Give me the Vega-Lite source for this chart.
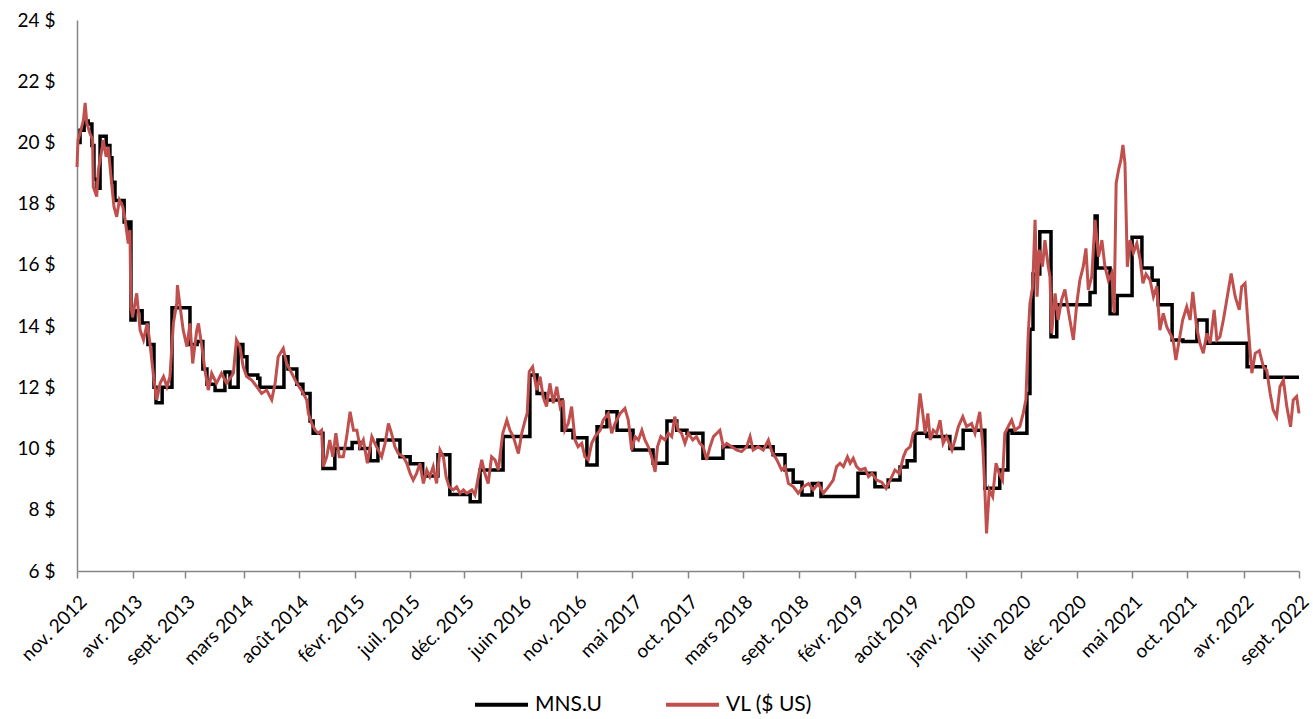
{
  "$schema": "https://vega.github.io/schema/vega-lite/v6.json",
  "autosize": {"type": "none"},
  "width": 1222,
  "height": 551,
  "padding": {"left": 77, "top": 20, "right": 14, "bottom": 148},
  "background": "white",
  "config": {"view": {"stroke": null}, "font": "Lato"},
  "datasets": {
    "mns": [
      {"d":"2012-11-15","v":20.0},{"d":"2012-11-24","v":20.4},{"d":"2012-12-06","v":20.7},{"d":"2012-12-18","v":20.6},{"d":"2012-12-29","v":19.9},
      {"d":"2013-01-04","v":18.8},{"d":"2013-01-13","v":18.5},{"d":"2013-01-22","v":20.2},{"d":"2013-02-09","v":19.9},{"d":"2013-02-20","v":19.5},
      {"d":"2013-02-26","v":18.7},{"d":"2013-03-07","v":18.1},{"d":"2013-04-03","v":17.4},{"d":"2013-04-15","v":17.1},{"d":"2013-04-20","v":17.4},
      {"d":"2013-04-23","v":14.2},{"d":"2013-05-05","v":14.5},{"d":"2013-05-26","v":14.1},{"d":"2013-06-12","v":13.4},{"d":"2013-06-30","v":12.0},
      {"d":"2013-07-06","v":11.5},{"d":"2013-07-24","v":12.0},{"d":"2013-08-22","v":14.6},{"d":"2013-10-14","v":13.4},{"d":"2013-11-04","v":13.5},
      {"d":"2013-11-21","v":12.6},{"d":"2013-12-03","v":12.1},{"d":"2013-12-27","v":11.9},{"d":"2014-01-25","v":12.5},{"d":"2014-02-09","v":12.0},
      {"d":"2014-03-05","v":13.4},{"d":"2014-03-19","v":13.0},{"d":"2014-03-31","v":12.4},{"d":"2014-05-02","v":12.3},{"d":"2014-05-08","v":12.0},
      {"d":"2014-07-18","v":13.0},{"d":"2014-07-30","v":12.6},{"d":"2014-08-25","v":12.1},{"d":"2014-09-12","v":11.8},{"d":"2014-10-03","v":10.9},
      {"d":"2014-10-12","v":10.5},{"d":"2014-11-10","v":9.35},{"d":"2014-12-15","v":10.0},{"d":"2015-02-04","v":10.2},{"d":"2015-02-27","v":10.0},
      {"d":"2015-03-29","v":9.6},{"d":"2015-04-21","v":10.28},{"d":"2015-06-25","v":9.73},{"d":"2015-07-25","v":9.5},{"d":"2015-08-31","v":9.1},
      {"d":"2015-10-15","v":9.8},{"d":"2015-11-19","v":8.5},{"d":"2016-01-18","v":8.26},{"d":"2016-02-16","v":9.3},{"d":"2016-04-24","v":10.39},
      {"d":"2016-07-12","v":12.4},{"d":"2016-08-02","v":11.8},{"d":"2016-08-25","v":11.59},{"d":"2016-10-15","v":10.6},{"d":"2016-11-16","v":10.35},
      {"d":"2016-12-27","v":9.46},{"d":"2017-01-26","v":10.71},{"d":"2017-02-24","v":11.2},{"d":"2017-03-26","v":10.6},{"d":"2017-05-12","v":9.95},
      {"d":"2017-07-10","v":9.52},{"d":"2017-08-20","v":10.9},{"d":"2017-09-18","v":10.6},{"d":"2017-10-18","v":10.5},{"d":"2017-12-04","v":9.68},
      {"d":"2018-02-01","v":10.06},{"d":"2018-06-29","v":9.8},{"d":"2018-08-03","v":9.3},{"d":"2018-08-27","v":8.9},{"d":"2018-09-22","v":8.48},
      {"d":"2018-10-22","v":8.86},{"d":"2018-11-17","v":8.43},{"d":"2019-03-06","v":9.19},{"d":"2019-04-25","v":8.75},{"d":"2019-06-03","v":8.97},
      {"d":"2019-07-08","v":9.4},{"d":"2019-07-29","v":9.6},{"d":"2019-08-21","v":10.5},{"d":"2019-09-25","v":10.39},{"d":"2019-12-02","v":10.0},
      {"d":"2020-01-10","v":10.6},{"d":"2020-03-14","v":8.7},{"d":"2020-04-27","v":9.3},{"d":"2020-05-21","v":10.6},{"d":"2020-06-02","v":10.5},
      {"d":"2020-07-16","v":11.8},{"d":"2020-07-25","v":13.9},{"d":"2020-08-03","v":15.7},{"d":"2020-08-23","v":17.08},{"d":"2020-09-25","v":13.65},
      {"d":"2020-10-12","v":14.7},{"d":"2021-01-18","v":15.1},{"d":"2021-02-02","v":17.6},{"d":"2021-02-08","v":15.9},{"d":"2021-03-18","v":14.4},
      {"d":"2021-04-08","v":15.0},{"d":"2021-05-22","v":16.9},{"d":"2021-06-20","v":15.9},{"d":"2021-07-20","v":15.5},{"d":"2021-08-07","v":14.7},
      {"d":"2021-09-17","v":13.55},{"d":"2021-10-19","v":13.5},{"d":"2021-11-29","v":14.2},{"d":"2021-12-29","v":13.44},{"d":"2022-04-26","v":12.67},
      {"d":"2022-06-18","v":12.33},{"d":"2022-09-26","v":12.33}
    ],
    "vl": [
      {"d":"2012-11-15","v":19.2},{"d":"2012-11-18","v":20.08},{"d":"2012-11-24","v":20.3},{"d":"2012-12-04","v":20.73},{"d":"2012-12-09","v":21.29},
      {"d":"2012-12-14","v":20.63},{"d":"2012-12-23","v":20.3},{"d":"2012-12-31","v":20.1},{"d":"2013-01-02","v":18.55},{"d":"2013-01-12","v":18.23},
      {"d":"2013-01-17","v":19.1},{"d":"2013-01-27","v":19.75},{"d":"2013-01-31","v":20.08},{"d":"2013-02-09","v":19.53},{"d":"2013-02-15","v":19.86},
      {"d":"2013-02-25","v":18.67},{"d":"2013-03-04","v":17.9},{"d":"2013-03-12","v":17.57},{"d":"2013-03-20","v":18.12},{"d":"2013-03-30","v":17.9},
      {"d":"2013-04-06","v":17.47},{"d":"2013-04-15","v":16.7},{"d":"2013-04-20","v":17.14},{"d":"2013-04-23","v":14.63},{"d":"2013-04-28","v":14.3},
      {"d":"2013-05-10","v":15.07},{"d":"2013-05-20","v":13.87},{"d":"2013-05-30","v":13.55},{"d":"2013-06-10","v":14.09},{"d":"2013-06-18","v":13.44},
      {"d":"2013-06-30","v":12.24},{"d":"2013-07-08","v":11.59},{"d":"2013-07-18","v":12.13},{"d":"2013-07-28","v":12.35},{"d":"2013-08-07","v":12.02},
      {"d":"2013-08-16","v":12.35},{"d":"2013-08-26","v":14.09},{"d":"2013-09-05","v":14.74},{"d":"2013-09-07","v":15.34},{"d":"2013-09-15","v":14.63},
      {"d":"2013-09-24","v":13.87},{"d":"2013-10-05","v":13.33},{"d":"2013-10-14","v":14.09},{"d":"2013-10-22","v":12.78},{"d":"2013-11-03","v":13.87},
      {"d":"2013-11-08","v":14.09},{"d":"2013-11-18","v":13.33},{"d":"2013-11-27","v":12.57},{"d":"2013-12-07","v":11.91},{"d":"2013-12-17","v":12.46},
      {"d":"2013-12-31","v":12.13},{"d":"2014-01-15","v":12.46},{"d":"2014-01-30","v":12.13},{"d":"2014-02-19","v":12.46},{"d":"2014-02-28","v":13.55},
      {"d":"2014-03-10","v":13.33},{"d":"2014-03-20","v":12.67},{"d":"2014-03-30","v":12.35},{"d":"2014-04-14","v":12.24},{"d":"2014-04-29","v":12.02},
      {"d":"2014-05-13","v":11.8},{"d":"2014-05-28","v":11.91},{"d":"2014-06-12","v":11.59},{"d":"2014-06-22","v":12.13},{"d":"2014-07-01","v":13.0},
      {"d":"2014-07-16","v":13.27},{"d":"2014-07-26","v":12.78},{"d":"2014-08-10","v":12.46},{"d":"2014-08-25","v":12.13},{"d":"2014-09-08","v":11.9},
      {"d":"2014-09-23","v":11.59},{"d":"2014-09-28","v":11.15},{"d":"2014-10-08","v":10.82},{"d":"2014-10-18","v":10.6},{"d":"2014-10-27","v":10.5},
      {"d":"2014-11-06","v":10.6},{"d":"2014-11-11","v":9.41},{"d":"2014-11-21","v":9.73},{"d":"2014-11-30","v":10.28},{"d":"2014-12-09","v":9.73},
      {"d":"2014-12-18","v":10.5},{"d":"2014-12-28","v":9.73},{"d":"2015-01-09","v":9.73},{"d":"2015-01-19","v":10.39},{"d":"2015-01-29","v":11.2},
      {"d":"2015-02-08","v":10.6},{"d":"2015-02-18","v":10.6},{"d":"2015-02-27","v":10.06},{"d":"2015-03-09","v":10.28},{"d":"2015-03-21","v":9.52},
      {"d":"2015-04-03","v":10.39},{"d":"2015-04-12","v":10.17},{"d":"2015-04-22","v":9.95},{"d":"2015-05-02","v":9.73},{"d":"2015-05-12","v":10.17},
      {"d":"2015-05-22","v":10.82},{"d":"2015-05-31","v":10.5},{"d":"2015-06-10","v":10.06},{"d":"2015-06-20","v":9.84},{"d":"2015-07-05","v":9.73},
      {"d":"2015-07-15","v":9.52},{"d":"2015-07-25","v":9.19},{"d":"2015-08-03","v":8.97},{"d":"2015-08-13","v":9.19},{"d":"2015-08-23","v":9.52},
      {"d":"2015-09-02","v":8.86},{"d":"2015-09-12","v":9.3},{"d":"2015-09-21","v":9.08},{"d":"2015-10-01","v":9.41},{"d":"2015-10-11","v":8.86},
      {"d":"2015-10-21","v":9.95},{"d":"2015-10-31","v":9.73},{"d":"2015-11-08","v":9.08},{"d":"2015-11-17","v":8.75},{"d":"2015-11-29","v":8.65},
      {"d":"2015-12-09","v":8.75},{"d":"2015-12-19","v":8.54},{"d":"2015-12-29","v":8.65},{"d":"2016-01-08","v":8.54},{"d":"2016-01-23","v":8.65},
      {"d":"2016-02-01","v":8.48},{"d":"2016-02-11","v":9.08},{"d":"2016-02-21","v":9.63},{"d":"2016-03-01","v":9.19},{"d":"2016-03-11","v":8.86},
      {"d":"2016-03-21","v":9.73},{"d":"2016-03-31","v":9.63},{"d":"2016-04-10","v":9.3},{"d":"2016-04-23","v":10.5},{"d":"2016-05-05","v":10.93},
      {"d":"2016-05-14","v":10.6},{"d":"2016-05-24","v":10.39},{"d":"2016-06-08","v":9.84},{"d":"2016-06-18","v":10.5},{"d":"2016-06-28","v":10.93},
      {"d":"2016-07-04","v":11.15},{"d":"2016-07-10","v":12.51},{"d":"2016-07-20","v":12.67},{"d":"2016-08-01","v":11.91},{"d":"2016-08-11","v":12.35},
      {"d":"2016-08-20","v":11.69},{"d":"2016-08-30","v":11.37},{"d":"2016-09-09","v":12.13},{"d":"2016-09-19","v":11.48},{"d":"2016-09-29","v":12.02},
      {"d":"2016-10-09","v":11.37},{"d":"2016-10-18","v":11.59},{"d":"2016-10-23","v":10.6},{"d":"2016-11-02","v":10.82},{"d":"2016-11-12","v":11.37},
      {"d":"2016-11-22","v":10.28},{"d":"2016-12-01","v":10.06},{"d":"2016-12-12","v":10.17},{"d":"2016-12-21","v":9.73},{"d":"2016-12-31","v":9.63},
      {"d":"2017-01-10","v":10.17},{"d":"2017-01-20","v":10.39},{"d":"2017-02-04","v":10.6},{"d":"2017-02-13","v":10.93},{"d":"2017-02-28","v":11.15},
      {"d":"2017-03-10","v":10.5},{"d":"2017-03-20","v":10.82},{"d":"2017-04-04","v":11.15},{"d":"2017-04-18","v":11.31},{"d":"2017-04-28","v":10.93},
      {"d":"2017-05-08","v":9.95},{"d":"2017-05-18","v":10.39},{"d":"2017-05-28","v":10.28},{"d":"2017-06-07","v":10.6},{"d":"2017-06-16","v":10.28},
      {"d":"2017-06-26","v":10.06},{"d":"2017-07-06","v":9.73},{"d":"2017-07-16","v":9.24},{"d":"2017-07-23","v":10.06},{"d":"2017-08-02","v":10.39},
      {"d":"2017-08-14","v":10.28},{"d":"2017-08-24","v":10.5},{"d":"2017-09-03","v":10.39},{"d":"2017-09-12","v":11.04},{"d":"2017-09-22","v":10.6},
      {"d":"2017-10-02","v":10.5},{"d":"2017-10-12","v":10.17},{"d":"2017-10-22","v":10.5},{"d":"2017-11-04","v":10.28},{"d":"2017-11-15","v":10.39},
      {"d":"2017-11-25","v":10.17},{"d":"2017-12-05","v":10.06},{"d":"2017-12-15","v":9.63},{"d":"2017-12-25","v":10.06},{"d":"2018-01-04","v":10.39},
      {"d":"2018-01-14","v":10.5},{"d":"2018-01-23","v":10.6},{"d":"2018-02-02","v":10.06},{"d":"2018-02-12","v":10.17},{"d":"2018-02-27","v":10.06},
      {"d":"2018-03-14","v":9.95},{"d":"2018-03-28","v":9.9},{"d":"2018-04-12","v":10.06},{"d":"2018-04-22","v":10.39},{"d":"2018-05-01","v":9.95},
      {"d":"2018-05-16","v":10.06},{"d":"2018-05-31","v":9.95},{"d":"2018-06-15","v":10.28},{"d":"2018-06-25","v":9.9},{"d":"2018-07-10","v":9.63},
      {"d":"2018-07-24","v":9.3},{"d":"2018-08-03","v":9.41},{"d":"2018-08-13","v":8.86},{"d":"2018-08-28","v":8.75},{"d":"2018-09-11","v":8.54},
      {"d":"2018-09-26","v":8.75},{"d":"2018-10-11","v":8.86},{"d":"2018-10-25","v":8.65},{"d":"2018-11-09","v":8.86},{"d":"2018-11-24","v":8.54},
      {"d":"2018-12-09","v":8.75},{"d":"2018-12-23","v":8.97},{"d":"2019-01-02","v":9.41},{"d":"2019-01-12","v":9.52},{"d":"2019-01-22","v":9.41},
      {"d":"2019-02-03","v":9.73},{"d":"2019-02-11","v":9.52},{"d":"2019-02-20","v":9.68},{"d":"2019-03-02","v":9.41},{"d":"2019-03-12","v":9.3},
      {"d":"2019-03-27","v":9.35},{"d":"2019-04-06","v":9.08},{"d":"2019-04-16","v":9.19},{"d":"2019-04-30","v":8.97},{"d":"2019-05-15","v":8.9},
      {"d":"2019-05-28","v":8.7},{"d":"2019-06-09","v":8.97},{"d":"2019-06-23","v":9.3},{"d":"2019-07-06","v":9.19},{"d":"2019-07-18","v":9.73},
      {"d":"2019-07-26","v":9.95},{"d":"2019-08-07","v":10.06},{"d":"2019-08-16","v":10.5},{"d":"2019-08-26","v":10.6},{"d":"2019-09-05","v":11.8},
      {"d":"2019-09-13","v":11.15},{"d":"2019-09-20","v":10.5},{"d":"2019-09-28","v":11.15},{"d":"2019-10-05","v":10.28},{"d":"2019-10-14","v":10.6},
      {"d":"2019-10-24","v":10.5},{"d":"2019-11-03","v":10.93},{"d":"2019-11-12","v":10.17},{"d":"2019-11-22","v":10.39},{"d":"2019-12-08","v":9.95},
      {"d":"2019-12-17","v":10.28},{"d":"2019-12-27","v":10.72},{"d":"2020-01-09","v":11.04},{"d":"2020-01-20","v":10.72},{"d":"2020-02-04","v":10.82},
      {"d":"2020-02-14","v":10.5},{"d":"2020-02-28","v":11.2},{"d":"2020-03-08","v":10.06},{"d":"2020-03-14","v":8.65},{"d":"2020-03-19","v":7.23},
      {"d":"2020-03-27","v":8.65},{"d":"2020-04-06","v":8.43},{"d":"2020-04-16","v":9.52},{"d":"2020-04-25","v":9.19},{"d":"2020-05-05","v":8.97},
      {"d":"2020-05-12","v":10.5},{"d":"2020-05-22","v":10.72},{"d":"2020-06-01","v":10.93},{"d":"2020-06-11","v":10.6},{"d":"2020-06-25","v":10.72},
      {"d":"2020-07-05","v":11.15},{"d":"2020-07-13","v":11.59},{"d":"2020-07-20","v":13.76},{"d":"2020-07-25","v":14.74},{"d":"2020-08-02","v":15.29},
      {"d":"2020-08-09","v":17.47},{"d":"2020-08-15","v":14.96},{"d":"2020-08-21","v":16.49},{"d":"2020-08-31","v":15.94},{"d":"2020-09-07","v":16.81},
      {"d":"2020-09-17","v":15.94},{"d":"2020-09-22","v":15.6},{"d":"2020-09-27","v":13.76},{"d":"2020-10-07","v":15.07},{"d":"2020-10-16","v":14.2},
      {"d":"2020-10-26","v":14.85},{"d":"2020-11-05","v":15.2},{"d":"2020-11-15","v":14.5},{"d":"2020-11-30","v":13.55},{"d":"2020-12-10","v":14.74},
      {"d":"2020-12-19","v":15.5},{"d":"2020-12-29","v":15.94},{"d":"2021-01-06","v":16.54},{"d":"2021-01-13","v":15.18},{"d":"2021-01-23","v":15.61},
      {"d":"2021-02-02","v":17.47},{"d":"2021-02-12","v":16.27},{"d":"2021-02-22","v":16.81},{"d":"2021-03-03","v":15.94},{"d":"2021-03-13","v":15.5},
      {"d":"2021-03-23","v":15.72},{"d":"2021-03-30","v":14.42},{"d":"2021-04-05","v":18.66},{"d":"2021-04-12","v":19.1},{"d":"2021-04-19","v":19.43},
      {"d":"2021-04-25","v":19.92},{"d":"2021-05-01","v":19.32},{"d":"2021-05-08","v":15.94},{"d":"2021-05-16","v":16.81},{"d":"2021-05-26","v":16.4},
      {"d":"2021-06-05","v":16.7},{"d":"2021-06-15","v":16.16},{"d":"2021-06-23","v":15.4},{"d":"2021-07-02","v":15.7},{"d":"2021-07-14","v":15.5},
      {"d":"2021-07-24","v":14.96},{"d":"2021-08-03","v":15.3},{"d":"2021-08-12","v":13.87},{"d":"2021-08-22","v":14.42},{"d":"2021-09-01","v":13.98},
      {"d":"2021-09-11","v":13.76},{"d":"2021-09-20","v":13.55},{"d":"2021-09-28","v":12.89},{"d":"2021-10-08","v":13.55},{"d":"2021-10-18","v":14.2},
      {"d":"2021-10-30","v":14.63},{"d":"2021-11-09","v":14.2},{"d":"2021-11-17","v":15.12},{"d":"2021-11-28","v":13.98},{"d":"2021-12-08","v":13.44},
      {"d":"2021-12-18","v":13.11},{"d":"2021-12-28","v":13.76},{"d":"2022-01-07","v":13.44},{"d":"2022-01-19","v":14.53},{"d":"2022-01-27","v":13.55},
      {"d":"2022-02-05","v":13.65},{"d":"2022-02-15","v":14.2},{"d":"2022-02-25","v":14.85},{"d":"2022-03-10","v":15.72},{"d":"2022-03-22","v":14.96},
      {"d":"2022-04-03","v":14.53},{"d":"2022-04-10","v":15.29},{"d":"2022-04-20","v":15.4},{"d":"2022-04-30","v":13.87},{"d":"2022-05-10","v":12.46},
      {"d":"2022-05-20","v":13.11},{"d":"2022-06-01","v":13.2},{"d":"2022-06-13","v":12.67},{"d":"2022-06-23","v":12.56},{"d":"2022-07-03","v":11.8},
      {"d":"2022-07-12","v":11.26},{"d":"2022-07-22","v":11.04},{"d":"2022-08-01","v":12.02},{"d":"2022-08-11","v":12.24},{"d":"2022-08-21","v":11.37},
      {"d":"2022-09-01","v":10.71},{"d":"2022-09-09","v":11.59},{"d":"2022-09-19","v":11.7},{"d":"2022-09-26","v":11.15}
    ]
  },
  "encoding": {
    "x": {
      "field": "d", "type": "temporal",
      "scale": {"type": "utc", "nice": false, "domain": [{"year":2012,"month":11,"date":15,"utc":true},{"year":2022,"month":9,"date":26,"utc":true}]},
      "axis": {
        "title": null, "grid": false,
        "values": [
          {"year":2012,"month":11,"date":15,"utc":true},{"year":2013,"month":4,"date":28,"utc":true},{"year":2013,"month":9,"date":30,"utc":true},
          {"year":2014,"month":3,"date":21,"utc":true},{"year":2014,"month":8,"date":31,"utc":true},{"year":2015,"month":2,"date":12,"utc":true},
          {"year":2015,"month":7,"date":25,"utc":true},{"year":2015,"month":12,"date":31,"utc":true},{"year":2016,"month":6,"date":17,"utc":true},
          {"year":2016,"month":11,"date":28,"utc":true},{"year":2017,"month":5,"date":10,"utc":true},{"year":2017,"month":10,"date":21,"utc":true},
          {"year":2018,"month":3,"date":31,"utc":true},{"year":2018,"month":9,"date":13,"utc":true},{"year":2019,"month":2,"date":24,"utc":true},
          {"year":2019,"month":8,"date":7,"utc":true},{"year":2020,"month":1,"date":18,"utc":true},{"year":2020,"month":6,"date":29,"utc":true},
          {"year":2020,"month":12,"date":10,"utc":true},{"year":2021,"month":5,"date":23,"utc":true},{"year":2021,"month":10,"date":31,"utc":true},
          {"year":2022,"month":4,"date":16,"utc":true},{"year":2022,"month":9,"date":26,"utc":true}
        ],
        "labelExpr": "['janv.','févr.','mars','avr.','mai','juin','juil.','août','sept.','oct.','nov.','déc.'][utcmonth(datum.value)] + ' ' + utcyear(datum.value)",
        "labelAngle": -45, "labelFontSize": 19, "labelColor": "#000000", "labelFont": "Lato",
        "labelOverlap": false, "labelFlush": false, "labelBound": false, "labelPadding": 14,
        "tickSize": 7, "tickColor": "#868686", "tickWidth": 1.5,
        "domainColor": "#868686", "domainWidth": 1.5
      }
    },
    "y": {
      "field": "v", "type": "quantitative",
      "scale": {"domain": [6, 24], "nice": false, "zero": false},
      "axis": {
        "title": null, "grid": false, "ticks": false,
        "values": [6, 8, 10, 12, 14, 16, 18, 20, 22, 24],
        "labelExpr": "datum.value + ' $'",
        "labelFontSize": 19, "labelColor": "#000000", "labelFont": "Lato", "labelPadding": 22,
        "domainColor": "#868686", "domainWidth": 1.5
      }
    }
  },
  "layer": [
    {
      "data": {"name": "mns"},
      "mark": {"type": "line", "interpolate": "step-after", "strokeWidth": 3.5},
      "encoding": {
        "color": {
          "datum": "MNS.U",
          "scale": {"domain": ["MNS.U", "VL ($ US)"], "range": ["#000000", "#C0504D"]},
          "legend": {
            "orient": "none", "legendX": 396, "legendY": 656, "direction": "horizontal", "title": null,
            "symbolType": "stroke", "symbolSize": 2809, "symbolStrokeWidth": 4,
            "labelFontSize": 21, "labelFont": "Lato", "labelColor": "#000000",
            "columnPadding": 56, "labelOffset": 5, "padding": 0
          }
        }
      }
    },
    {
      "data": {"name": "vl"},
      "mark": {"type": "line", "strokeWidth": 3},
      "encoding": {"color": {"datum": "VL ($ US)"}}
    }
  ]
}
